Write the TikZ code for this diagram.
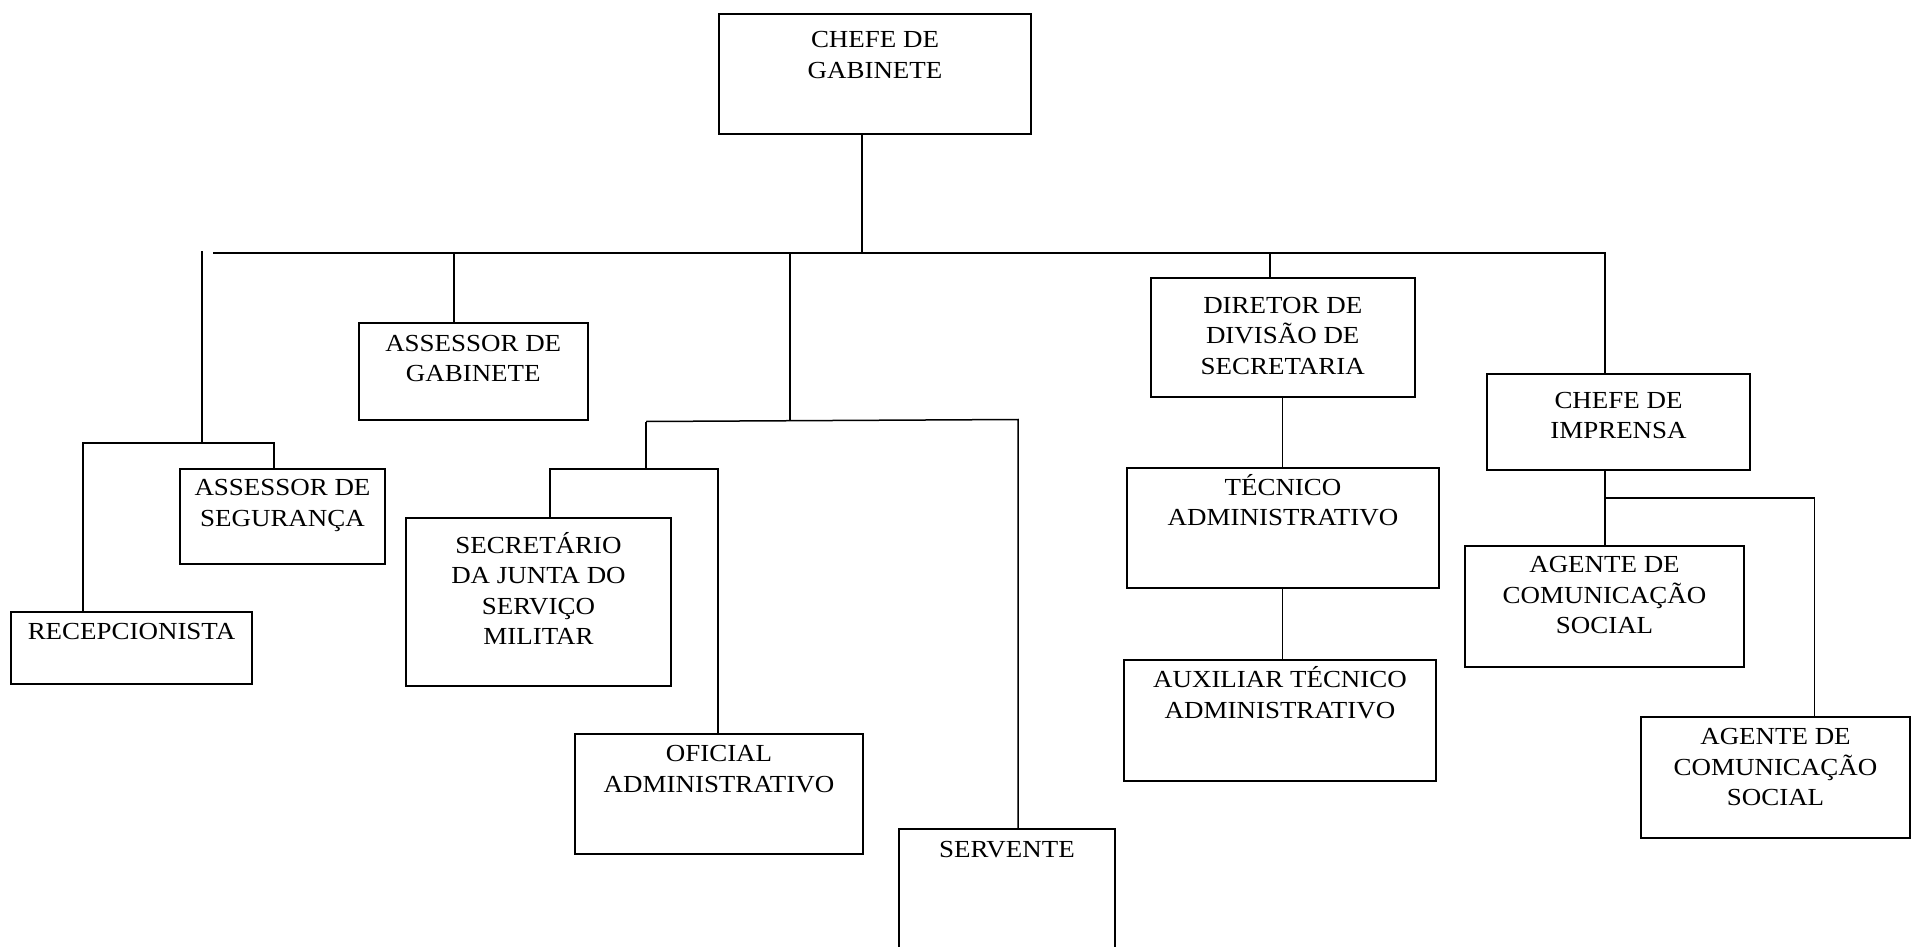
\documentclass[tikz,border=0pt]{standalone}
\usepackage{fontspec}
\setmainfont{Liberation Serif}[FakeStretch=1.1]
\usetikzlibrary{calc}
\newcommand{\capline}{\rule{0pt}{25pt}}

\begin{document}
\begin{tikzpicture}[x=1pt, y=-1pt,
            box/.style={draw, line width=2pt, inner sep=0pt, anchor=north west},
            txt/.style={anchor=north, align=center, inner sep=0pt},
            link/.style={line width=1.5pt}]
        \tikzstyle{every node}=[font=\fontsize{24.5}{30.5}\selectfont]
        \useasboundingbox (0,0) rectangle (1911,947);
        \clip (0,0) rectangle (1911,947);
        \node[box, minimum width=312, minimum height=120] (chefe) at (718,13) {};
        \node[box, minimum width=228.5, minimum height=97] (assGab) at (358,322) {};
        \node[box, minimum width=205, minimum height=95] (assSeg) at (179,468) {};
        \node[box, minimum width=241, minimum height=72] (recep) at (10,611) {};
        \node[box, minimum width=265, minimum height=168] (secret) at (405,517) {};
        \node[box, minimum width=288, minimum height=120] (oficial) at (574,733) {};
        \node[box, minimum width=216, minimum height=140] (servente) at (898,828) {};
        \node[box, minimum width=263.5, minimum height=119] (diretor) at (1150,277) {};
        \node[box, minimum width=312, minimum height=120] (tecnico) at (1126,467) {};
        \node[box, minimum width=312, minimum height=121] (auxiliar) at (1123,659) {};
        \node[box, minimum width=263, minimum height=96] (imprensa) at (1486,373) {};
        \node[box, minimum width=279, minimum height=121] (agenteA) at (1464,545) {};
        \node[box, minimum width=269, minimum height=121] (agenteB) at (1640,716) {};
        \node[txt] (chefeT) at ([yshift=-9.5pt]chefe.north) {\capline CHEFE DE\\GABINETE};
        \node[txt] (assGabT) at ([yshift=-4pt]assGab.north) {\capline ASSESSOR DE\\GABINETE};
        \node[txt] (assSegT) at ([yshift=-2.7pt]assSeg.north) {\capline ASSESSOR DE\\SEGURANÇA};
        \node[txt] (recepT) at ([yshift=-3.3pt]recep.north) {\capline RECEPCIONISTA};
        \node[txt] (secretT) at ([yshift=-11pt]secret.north) {\capline SECRETÁRIO\\DA JUNTA DO\\SERVIÇO\\MILITAR};
        \node[txt] (oficialT) at ([yshift=-3.3pt]oficial.north) {\capline OFICIAL\\ADMINISTRATIVO};
        \node[txt] (serventeT) at ([yshift=-4.4pt]servente.north) {\capline SERVENTE};
        \node[txt] (diretorT) at ([yshift=-11pt]diretor.north) {\capline DIRETOR DE\\DIVISÃO DE\\SECRETARIA};
        \node[txt] (tecnicoT) at ([yshift=-3pt]tecnico.north) {\capline TÉCNICO\\ADMINISTRATIVO};
        \node[txt] (auxiliarT) at ([yshift=-3.5pt]auxiliar.north) {\capline AUXILIAR TÉCNICO\\ADMINISTRATIVO};
        \node[txt] (imprensaT) at ([yshift=-10pt]imprensa.north) {\capline CHEFE DE\\IMPRENSA};
        \node[txt] (agenteAT) at ([yshift=-2.7pt]agenteA.north) {\capline AGENTE DE\\COMUNICAÇÃO\\SOCIAL};
        \node[txt] (agenteBT) at ([yshift=-3.3pt]agenteB.north) {\capline AGENTE DE\\COMUNICAÇÃO\\SOCIAL};
        \coordinate (busL) at (213,253);
        \coordinate (busR) at (1605,253);
        \coordinate (jChefe) at (862,253);
        \coordinate (jGab) at (454,253);
        \coordinate (jMid) at (790,253);
        \coordinate (jDir) at (1270,253);
        \coordinate (stubT) at (202,251);
        \coordinate (stubB) at (202,443);
        \coordinate (hL) at (83,443);
        \coordinate (hR) at (274,443);
        \coordinate (midB) at (790,421);
        \coordinate (midL) at (646,421.5);
        \coordinate (midR) at (1018,419.5);
        \coordinate (sJ) at (646,469);
        \coordinate (sL) at (550,469);
        \coordinate (sR) at (718,469);
        \coordinate (dt) at (1282.5,430);
        \coordinate (iL) at (1605,498);
        \coordinate (iR) at (1814.5,498);
        \draw[link] (busL) -- (busR) -- (busR |- imprensa.north);
        \draw[link] (jChefe |- chefe.south) -- (jChefe);
        \draw[link] (jGab) -- (jGab |- assGab.north);
        \draw[link] (stubT) -- (stubB);
        \draw[link] (recep.north -| hL) -- (hL) -- (hR) -- (assSeg.north -| hR);
        \draw[link] (jMid) -- (midB);
        \draw[link] (midL) -- (midR) -- (servente.north -| midR);
        \draw[link] (midL) -- (sJ);
        \draw[link] (secret.north -| sL) -- (sL) -- (sR) -- (oficial.north -| sR);
        \draw[link] (jDir) -- (diretor.north -| jDir);
        \draw[link] (diretor.south -| dt) -- (tecnico.north -| dt);
        \draw[link] (tecnico.south -| dt) -- (auxiliar.north -| dt);
        \draw[link] (imprensa.south -| iL) -- (agenteA.north -| iL);
        \draw[link] (iL) -- (iR) -- (agenteB.north -| iR);
    \end{tikzpicture}
\end{document}
